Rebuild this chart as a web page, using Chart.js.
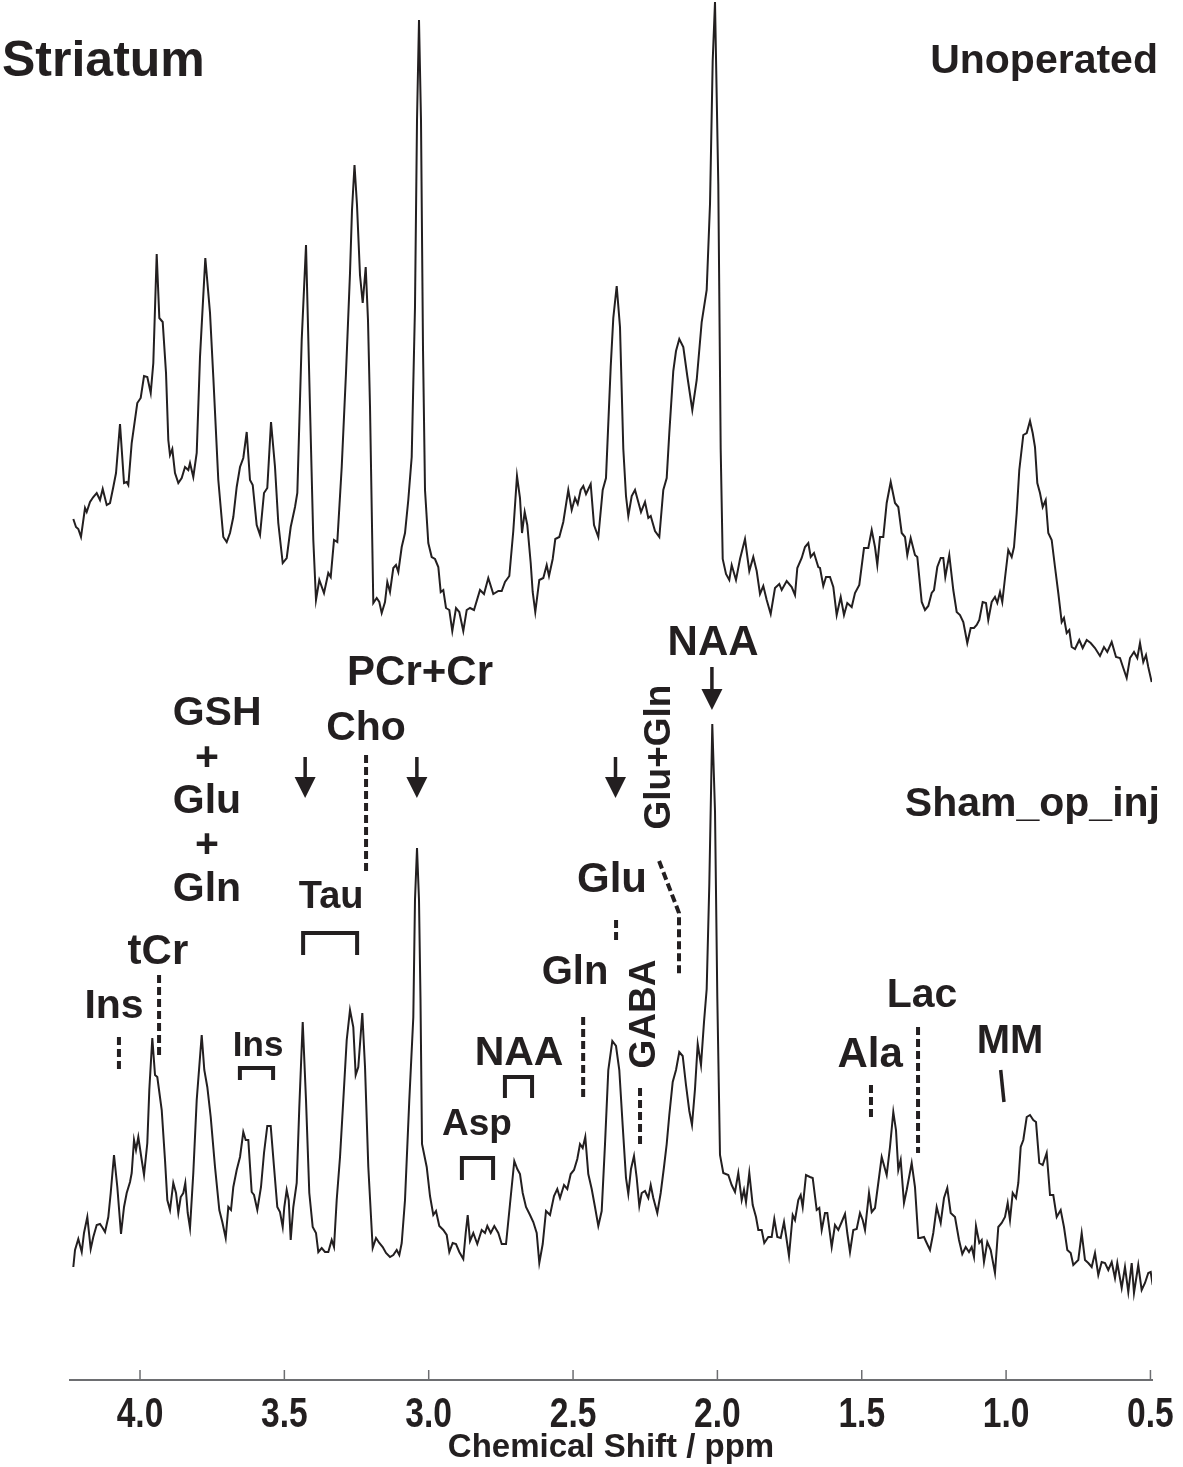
<!DOCTYPE html>
<html>
<head>
<meta charset="utf-8">
<title>Striatum</title>
<script src="https://cdn.jsdelivr.net/npm/chart.js@4.4.1/dist/chart.umd.min.js"></script>
<style>
  html, body { margin: 0; padding: 0; background: #ffffff; }
  canvas { display: block; }
</style>
</head>
<body>
<canvas id="espectro" width="1183" height="1467" style="width:1183px;height:1467px"></canvas>
<script>
// Desplazamiento químico (ppm) y señal del espectro "Unoperated" (arriba)
const topPpm = [4.2310,4.2217,4.2137,4.2044,4.1905,4.1846,4.1732,4.1618,4.1500,4.1386,4.1292,4.1153,4.1039,4.0925,4.0831,4.0693,4.0554,4.0461,4.0405,4.0288,4.0094,3.9976,3.9861,3.9747,3.9629,3.9539,3.9422,3.9331,3.9214,3.9099,3.9020,3.8961,3.8881,3.8788,3.8673,3.8556,3.8441,3.8327,3.8268,3.8154,3.8036,3.7922,3.7738,3.7575,3.7461,3.7288,3.7115,3.6997,3.6883,3.6768,3.6651,3.6536,3.6422,3.6304,3.6190,3.6096,3.5958,3.5843,3.5705,3.5591,3.5462,3.5324,3.5210,3.5057,3.4919,3.4780,3.4631,3.4551,3.4399,3.4250,3.4112,3.3997,3.3904,3.3789,3.3627,3.3478,3.3394,3.3280,3.3166,3.3013,3.2865,3.2726,3.2657,3.2570,3.2484,3.2380,3.2286,3.2182,3.2103,3.2033,3.1919,3.1801,3.1711,3.1628,3.1514,3.1434,3.1341,3.1226,3.1133,3.1053,3.0935,3.0821,3.0707,3.0589,3.0475,3.0405,3.0336,3.0267,3.0197,3.0128,3.0014,2.9896,2.9782,2.9667,2.9584,2.9494,2.9401,2.9286,2.9183,2.9054,2.8940,2.8802,2.8684,2.8569,2.8431,2.8223,2.8085,2.7936,2.7762,2.7589,2.7471,2.7357,2.7208,2.7070,2.6942,2.6838,2.6768,2.6675,2.6585,2.6467,2.6398,2.6308,2.6169,2.6030,2.5913,2.5833,2.5705,2.5615,2.5476,2.5338,2.5165,2.5047,2.4932,2.4839,2.4735,2.4645,2.4551,2.4389,2.4274,2.4125,2.3973,2.3859,2.3696,2.3606,2.3488,2.3374,2.3259,2.3166,2.3086,2.2968,2.2854,2.2740,2.2646,2.2508,2.2393,2.2310,2.2161,2.2012,2.1874,2.1756,2.1666,2.1528,2.1434,2.1320,2.1181,2.1043,2.0869,2.0717,2.0544,2.0371,2.0256,2.0163,2.0083,1.9969,1.9886,1.9816,1.9702,1.9588,1.9505,1.9356,1.9217,1.9044,1.8895,1.8757,1.8639,1.8524,1.8410,1.8292,1.8154,1.8005,1.7856,1.7773,1.7600,1.7426,1.7312,1.7232,1.7080,1.6966,1.6851,1.6768,1.6654,1.6505,1.6446,1.6332,1.6238,1.6100,1.5985,1.5868,1.5729,1.5615,1.5501,1.5348,1.5234,1.5085,1.4922,1.4773,1.4655,1.4541,1.4461,1.4368,1.4254,1.4136,1.3997,1.3848,1.3734,1.3616,1.3502,1.3422,1.3305,1.3156,1.3076,1.2923,1.2809,1.2695,1.2577,1.2497,1.2383,1.2265,1.2175,1.2106,1.1968,1.1829,1.1711,1.1597,1.1482,1.1344,1.1226,1.1112,1.1018,1.0928,1.0811,1.0696,1.0617,1.0499,1.0385,1.0305,1.0211,1.0132,1.0038,0.9924,0.9806,0.9726,0.9633,0.9543,0.9404,0.9286,0.9172,0.9079,0.8999,0.8919,0.8826,0.8732,0.8628,0.8538,0.8421,0.8306,0.8192,0.8074,0.7995,0.7901,0.7811,0.7728,0.7613,0.7465,0.7347,0.7208,0.7070,0.6921,0.6748,0.6609,0.6495,0.6342,0.6193,0.6055,0.5940,0.5823,0.5708,0.5570,0.5455,0.5362,0.5248,0.5154,0.5075,0.4957];
const topSignal = [181,173,171,163,192,188,198,203,207,200,211,195,197,213,227,276,217,218,215,257,297,302,324,323,307,337,446,382,378,327,260,245,251,227,217,222,233,230,237,223,247,343,442,387,323,220,163,158,167,183,213,233,242,268,220,215,175,165,207,212,278,233,177,137,142,173,193,207,360,455,293,160,100,120,107,127,123,160,158,233,327,427,490,535,495,425,397,433,380,293,97,102,98,87,98,118,108,132,135,128,153,167,200,243,393,580,680,580,350,210,157,143,141,133,108,110,92,90,69,92,88,69,90,92,90,110,106,122,106,109,109,118,124,169,224,202,167,188,175,137,108,88,120,122,135,124,141,161,163,178,210,190,202,196,210,214,206,216,175,163,210,222,333,382,414,373,251,204,184,204,210,198,188,198,182,184,169,163,210,222,267,329,349,361,353,324,290,320,378,410,496,639,698,516,251,141,126,120,135,120,141,161,129,143,129,106,114,100,86,112,116,110,119,113,105,132,142,153,157,143,147,133,132,114,123,123,113,85,103,85,97,93,107,115,152,152,170,153,135,163,163,197,218,197,193,167,163,145,162,145,143,98,90,94,107,110,133,142,142,123,145,110,88,85,78,57,72,72,75,80,98,97,80,98,103,97,108,98,122,150,143,153,187,230,265,267,279,267,253,217,207,193,200,167,160,133,107,78,82,67,70,53,51,60,52,60,57,52,44,53,48,58,43,42,32,22,42,48,42,57,38,45,33,18];

// Espectro "Sham_op_inj" (abajo)
const bottomPpm = [4.2310,4.2251,4.2137,4.2019,4.1940,4.1825,4.1708,4.1618,4.1500,4.1386,4.1292,4.1212,4.1098,4.1015,4.0901,4.0786,4.0658,4.0554,4.0461,4.0346,4.0288,4.0208,4.0139,4.0059,3.9941,3.9861,3.9747,3.9678,3.9574,3.9480,3.9401,3.9248,3.9134,3.9054,3.8961,3.8847,3.8753,3.8673,3.8590,3.8500,3.8431,3.8348,3.8268,3.8154,3.8036,3.7863,3.7773,3.7669,3.7551,3.7402,3.7253,3.7149,3.7032,3.6941,3.6848,3.6768,3.6651,3.6536,3.6422,3.6339,3.6249,3.6131,3.6051,3.5937,3.5809,3.5705,3.5591,3.5473,3.5358,3.5244,3.5151,3.5057,3.5002,3.4919,3.4849,3.4780,3.4690,3.4572,3.4482,3.4364,3.4250,3.4136,3.4018,3.3904,3.3824,3.3706,3.3592,3.3478,3.3360,3.3280,3.3187,3.3072,3.2958,3.2840,3.2726,3.2612,3.2529,3.2439,3.2300,3.2206,3.2092,3.1940,3.1825,3.1711,3.1593,3.1479,3.1341,3.1226,3.1108,3.1018,3.0935,3.0821,3.0672,3.0533,3.0475,3.0405,3.0336,3.0284,3.0232,3.0069,2.9955,2.9841,2.9747,2.9633,2.9494,2.9376,2.9286,2.9169,2.9054,2.8940,2.8802,2.8718,2.8649,2.8569,2.8455,2.8317,2.8164,2.8050,2.7970,2.7852,2.7728,2.7589,2.7471,2.7322,2.7184,2.7035,2.6931,2.6838,2.6744,2.6630,2.6491,2.6377,2.6259,2.6169,2.6051,2.5937,2.5798,2.5660,2.5546,2.5452,2.5313,2.5199,2.5081,2.4967,2.4853,2.4759,2.4666,2.4576,2.4472,2.4354,2.4240,2.4125,2.4008,2.3893,2.3779,2.3640,2.3512,2.3398,2.3280,2.3166,2.3086,2.2993,2.2889,2.2795,2.2705,2.2622,2.2508,2.2393,2.2310,2.2220,2.2082,2.1964,2.1850,2.1756,2.1666,2.1548,2.1434,2.1320,2.1202,2.1088,2.0973,2.0880,2.0776,2.0682,2.0568,2.0464,2.0371,2.0281,2.0177,2.0083,2.0004,1.9910,1.9796,1.9622,1.9505,1.9390,1.9276,1.9158,1.9079,1.9009,1.8895,1.8777,1.8663,1.8583,1.8466,1.8376,1.8237,1.8119,1.8029,1.7925,1.7807,1.7693,1.7600,1.7520,1.7392,1.7312,1.7198,1.7115,1.7045,1.6931,1.6793,1.6699,1.6560,1.6470,1.6387,1.6273,1.6193,1.6041,1.5927,1.5812,1.5695,1.5580,1.5501,1.5407,1.5293,1.5175,1.5061,1.4967,1.4887,1.4749,1.4655,1.4541,1.4427,1.4309,1.4136,1.4022,1.3907,1.3814,1.3734,1.3651,1.3537,1.3443,1.3270,1.3156,1.3041,1.2982,1.2844,1.2750,1.2636,1.2522,1.2404,1.2265,1.2151,1.2037,1.1919,1.1770,1.1631,1.1517,1.1399,1.1285,1.1192,1.1112,1.1043,1.0928,1.0845,1.0766,1.0651,1.0533,1.0385,1.0270,1.0152,1.0038,0.9945,0.9865,0.9771,0.9657,0.9577,0.9494,0.9404,0.9286,0.9172,0.9058,0.8964,0.8850,0.8732,0.8594,0.8479,0.8365,0.8247,0.8109,0.7995,0.7880,0.7762,0.7672,0.7499,0.7381,0.7267,0.7153,0.7035,0.6921,0.6806,0.6689,0.6574,0.6460,0.6342,0.6228,0.6148,0.5996,0.5882,0.5767,0.5649,0.5570,0.5422,0.5304,0.5189,0.5075,0.4991,0.4922];
const bottomSignal = [33,50,61,48,67,83,51,63,75,76,72,68,83,107,145,113,66,93,107,118,127,160,150,163,140,125,157,210,262,225,223,190,140,100,90,117,107,87,103,107,117,87,72,127,200,265,230,213,183,133,90,78,62,93,90,113,130,143,168,160,160,108,105,90,113,147,174,174,133,93,88,73,93,110,100,60,93,117,193,278,200,107,73,67,48,52,48,48,60,53,100,143,200,260,290,273,225,233,287,233,133,52,62,57,53,47,43,45,50,45,57,100,200,283,400,452,400,300,156,133,104,85,89,74,70,65,48,57,56,48,41,67,85,59,67,56,70,67,74,67,74,67,56,56,96,139,131,126,107,93,85,78,67,37,56,89,85,104,111,102,115,111,126,130,141,156,152,163,126,111,93,74,89,156,230,259,254,230,174,122,106,131,144,122,94,107,109,102,115,102,87,107,133,156,185,218,230,248,244,215,189,175,211,256,235,278,311,415,576,489,304,145,127,125,115,108,127,100,110,98,127,95,83,70,70,57,63,63,81,63,62,78,60,44,85,80,100,105,93,125,123,122,90,92,70,87,87,53,75,70,78,86,67,48,70,71,87,80,70,107,88,92,117,143,125,153,188,170,130,140,97,110,137,113,62,62,63,57,50,67,93,77,102,112,87,83,60,46,53,48,53,43,74,57,60,38,58,50,27,73,77,83,97,80,107,102,117,153,160,183,185,180,178,137,135,147,105,105,83,90,73,50,47,35,40,67,40,37,33,47,25,38,37,30,38,22,37,12,33,8,37,7,35,10,17,27,28,15];

// Desplazamiento vertical de cada traza
const topOffset = 680;
const bottomOffset = 80;

// Etiquetas del eje x
const xTicks = [4.0, 3.5, 3.0, 2.5, 2.0, 1.5, 1.0, 0.5];

// Anotaciones en unidades de datos: [texto, ppm, nivel, tamaño]
const textLabels = [
  ['NAA', 2.015, 737, 42], ['PCr+Cr', 3.030, 707, 42], ['GSH', 3.733, 666, 41],
  ['+', 3.768, 621, 41], ['Glu', 3.768, 578, 41], ['+', 3.768, 534, 41], ['Gln', 3.768, 490, 41],
  ['Cho', 3.217, 651, 41], ['Tau', 3.338, 482, 38], ['tCr', 3.938, 428, 42], ['Ins', 4.090, 373, 41],
  ['Ins', 3.591, 334, 35], ['Glu', 2.365, 500, 42], ['Gln', 2.493, 407, 40], ['NAA', 2.687, 326, 41],
  ['Asp', 2.833, 255, 37], ['Ala', 1.471, 325, 42], ['Lac', 1.291, 384, 41], ['MM', 0.9865, 338, 40]
];
const verticalLabels = [['Glu+Gln', 2.199, 623], ['GABA', 2.251, 366]];
const arrows = [[2.019, 713, 670], [3.041, 623, 582], [3.428, 623, 582], [2.353, 623, 582]];
const dashedLines = [
  [[3.217, 625], [3.217, 507]],
  [[3.934, 405], [3.934, 322]],
  [[4.073, 343], [4.073, 310]],
  [[2.202, 519], [2.133, 467], [2.133, 405]],
  [[2.351, 460], [2.351, 440]],
  [[2.465, 363], [2.465, 282]],
  [[2.268, 292], [2.268, 235]],
  [[1.468, 295], [1.468, 263]],
  [[1.305, 353], [1.305, 227]]
];
const mmLine = [[1.0187, 310], [1.0073, 278]];
// Corchetes: [ppm izquierda, ppm derecha, nivel superior, nivel de las patas]
const brackets = [[3.435, 3.248, 447, 425], [3.654, 3.539, 312, 300], [2.736, 2.642, 303, 282], [2.885, 2.777, 222, 200]];

const INK = '#231f20';
const FONT = "'Liberation Sans', Arial, sans-serif";

function toPoints(ppm, signal, offset) {
  return ppm.map((p, i) => ({ x: p, y: signal[i] + offset }));
}

// Plugin para las anotaciones, las etiquetas estrechas y las marcas del eje hacia dentro
const anotaciones = {
  id: 'anotaciones',
  afterDraw(chart) {
    const { ctx, scales: { x, y }, chartArea } = chart;
    const px = v => x.getPixelForValue(v);
    const py = v => y.getPixelForValue(v);
    ctx.save();

    // marcas del eje
    ctx.strokeStyle = '#6d6e71';
    ctx.lineWidth = 1.5;
    xTicks.forEach(t => {
      ctx.beginPath();
      ctx.moveTo(px(t), chartArea.bottom);
      ctx.lineTo(px(t), chartArea.bottom - 10);
      ctx.stroke();
    });

    // etiquetas del eje (tipografía estrecha)
    ctx.fillStyle = INK;
    ctx.font = 'bold 42px ' + FONT;
    ctx.textAlign = 'center';
    ctx.textBaseline = 'alphabetic';
    x.ticks.forEach(t => {
      ctx.save();
      ctx.translate(px(t.value), chartArea.bottom + 47);
      ctx.scale(0.8, 1);
      ctx.fillText(t.value.toFixed(1), 0, 0);
      ctx.restore();
    });

    ctx.strokeStyle = INK;
    ctx.textBaseline = 'middle';
    textLabels.forEach(([t, p, l, s]) => {
      ctx.font = 'bold ' + s + 'px ' + FONT;
      ctx.fillText(t, px(p), py(l));
    });
    ctx.font = 'bold 37px ' + FONT;
    verticalLabels.forEach(([t, p, l]) => {
      ctx.save();
      ctx.translate(px(p), py(l));
      ctx.rotate(-Math.PI / 2);
      ctx.fillText(t, 0, 0);
      ctx.restore();
    });

    // títulos
    ctx.font = 'bold 50px ' + FONT;
    ctx.textAlign = 'left';
    ctx.fillText('Striatum', px(4.478), py(1318));
    ctx.font = 'bold 41px ' + FONT;
    ctx.textAlign = 'right';
    ctx.fillText('Unoperated', px(0.474), py(1318));
    ctx.fillText('Sham_op_inj', px(0.467), py(575));

    // flechas
    arrows.forEach(([p, l1, l2]) => {
      const ax = px(p), y1 = py(l1), y2 = py(l2);
      ctx.lineWidth = 3.5;
      ctx.beginPath();
      ctx.moveTo(ax, y1);
      ctx.lineTo(ax, y2 - 18);
      ctx.stroke();
      ctx.beginPath();
      ctx.moveTo(ax - 10.5, y2 - 21);
      ctx.lineTo(ax + 10.5, y2 - 21);
      ctx.lineTo(ax, y2);
      ctx.closePath();
      ctx.fill();
    });

    // líneas discontinuas
    ctx.lineWidth = 4;
    ctx.setLineDash([8, 4]);
    dashedLines.forEach(line => {
      ctx.beginPath();
      line.forEach(([p, l], i) => i ? ctx.lineTo(px(p), py(l)) : ctx.moveTo(px(p), py(l)));
      ctx.stroke();
    });
    ctx.setLineDash([]);
    ctx.lineWidth = 3.5;
    ctx.beginPath();
    ctx.moveTo(px(mmLine[0][0]), py(mmLine[0][1]));
    ctx.lineTo(px(mmLine[1][0]), py(mmLine[1][1]));
    ctx.stroke();

    // corchetes
    ctx.lineWidth = 4;
    brackets.forEach(([p1, p2, top, leg]) => {
      ctx.beginPath();
      ctx.moveTo(px(p1), py(leg));
      ctx.lineTo(px(p1), py(top));
      ctx.lineTo(px(p2), py(top));
      ctx.lineTo(px(p2), py(leg));
      ctx.stroke();
    });
    ctx.restore();
  }
};

const canvas = document.getElementById('espectro');
new Chart(canvas, {
  type: 'scatter',
  data: {
    datasets: [
      { label: 'Unoperated', data: toPoints(topPpm, topSignal, topOffset) },
      { label: 'Sham_op_inj', data: toPoints(bottomPpm, bottomSignal, bottomOffset) }
    ].map(d => Object.assign(d, {
      showLine: true, borderColor: INK, borderWidth: 2, pointRadius: 0, tension: 0, fill: false
    }))
  },
  options: {
    responsive: false,
    animation: false,
    devicePixelRatio: 1,
    layout: { padding: { left: 70, right: 31, top: 0, bottom: 0 } },
    plugins: { legend: { display: false }, tooltip: { enabled: false } },
    scales: {
      x: {
        type: 'linear',
        reverse: true,
        min: 0.4946,
        max: 4.2425,
        afterBuildTicks: s => { s.ticks = xTicks.map(v => ({ value: v })); },
        afterFit: s => { s.paddingLeft = 0; s.paddingRight = 0; },
        grid: { display: true, drawOnChartArea: false, drawTicks: false },
        border: { display: true, color: '#6d6e71', width: 2 },
        ticks: { display: false },
        title: {
          display: true,
          text: 'Chemical Shift / ppm',
          color: INK,
          font: { family: FONT, size: 33, weight: 'bold', lineHeight: 1 },
          padding: { top: 51, bottom: 3 }
        }
      },
      y: { display: false, min: 0, max: 1380 }
    }
  },
  plugins: [anotaciones]
});
</script>
</body>
</html>
